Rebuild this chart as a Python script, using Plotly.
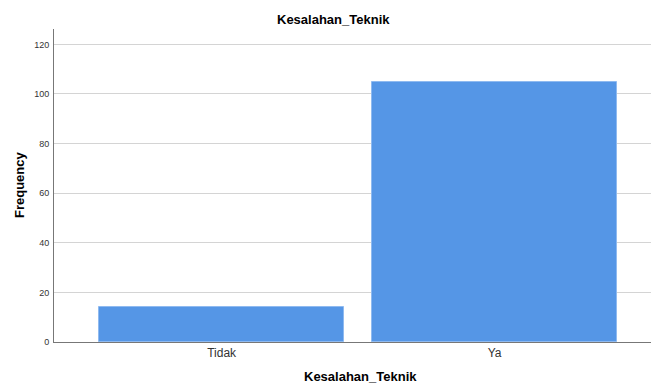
import plotly.graph_objects as go

categories = ["Tidak", "Ya"]
frequencies = [14, 105]
y_ticks = [0, 20, 40, 60, 80, 100, 120]

fig = go.Figure()
fig.add_trace(go.Bar(
    x=categories, y=frequencies,
    marker=dict(color="#5596e6", line=dict(color="#8fbaf0", width=1)),
    width=0.897,
))

H = 385
fig.update_layout(
    width=651, height=H,
    margin=dict(l=54, r=0, t=29, b=43, autoexpand=False),
    paper_bgcolor="white", plot_bgcolor="white",
    font=dict(family="Liberation Sans, Arial, sans-serif", color="#000"),
    showlegend=False,
    bargap=0,
    annotations=[
        dict(text="<b>Kesalahan_Teknik</b>", xref="paper", yref="paper",
             x=(333 - 54) / 597, y=1 + (29 - 19) / 313, xanchor="center", yanchor="middle",
             showarrow=False, font=dict(size=13)),
        dict(text="<b>Kesalahan_Teknik</b>", xref="paper", yref="paper",
             x=(360 - 54) / 597, y=-(376 - 342) / 313, xanchor="center", yanchor="middle",
             showarrow=False, font=dict(size=13)),
        dict(text="<b>Frequency</b>", xref="paper", yref="paper",
             x=-(54 - 19) / 597, y=(342 - 185) / 313, xanchor="center", yanchor="middle",
             textangle=-90, showarrow=False, font=dict(size=13)),
    ],
)
fig.update_xaxes(
    range=[-0.614, 1.573], automargin=False,
    showline=True, linecolor="#777", linewidth=1,
    ticks="", showgrid=False,
    tickfont=dict(size=12, color="#333"),
)
fig.update_yaxes(
    range=[0, 126.2], automargin=False,
    tickvals=y_ticks,
    showline=True, linecolor="#777", linewidth=1,
    ticks="outside", ticklen=2, tickcolor="white",
    showgrid=True, gridcolor="#d4d4d4", gridwidth=1,
    zeroline=False,
    tickfont=dict(size=9, color="#333"),
)

fig.write_html("out.html", config={"displayModeBar": False},
               post_script="document.body.style.margin='0';document.body.style.overflow='hidden';")
